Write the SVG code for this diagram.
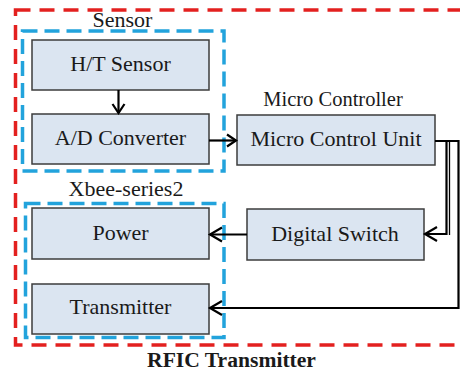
<svg xmlns="http://www.w3.org/2000/svg" width="460" height="371" viewBox="0 0 460 371">
<defs>
<style>
.box{fill:#dbe5f1;stroke:#3c3c3c;stroke-width:1.5}
.t{font-size:22px;fill:#1a1a1a;text-anchor:middle}
.b{font-weight:bold;font-size:21.6px}
.red{fill:none;stroke:#e3201f;stroke-width:3.5;stroke-dasharray:15 9}
.blue{fill:none;stroke:#22a3dc;stroke-width:3.5;stroke-dasharray:15 7}
.c{fill:none;stroke:#000;stroke-width:2.2}
</style>
<marker id="ah" markerUnits="userSpaceOnUse" markerWidth="20" markerHeight="20" viewBox="-14 -10 16 20" refX="0" refY="0" orient="auto">
<path d="M-12,-7 L0,0 L-12,7" fill="none" stroke="#000" stroke-width="2.2"/>
</marker>
<marker id="ahs" markerUnits="userSpaceOnUse" markerWidth="20" markerHeight="20" viewBox="-14 -10 16 20" refX="0" refY="0" orient="auto">
<path d="M-9,-6 L0,0 L-9,6" fill="none" stroke="#000" stroke-width="2.2"/>
</marker>
</defs>
<rect width="460" height="371" fill="#fff"/>
<g font-family="Liberation Serif, Times New Roman, serif">
<g id="rfic">
<rect class="red" x="15.5" y="10" width="460" height="335"/>
<text class="t b" x="231.5" y="366.5">RFIC Transmitter</text>
</g>
<g id="sensor">
<rect class="blue" x="22.5" y="31" width="201.5" height="140"/>
<text class="t" x="122.5" y="27">Sensor</text>
</g>
<g id="xbee">
<rect class="blue" x="25.5" y="203.5" width="198.5" height="134"/>
<text class="t" x="126" y="196">Xbee-series2</text>
</g>
<g id="ht-sensor">
<rect class="box" x="32" y="40" width="177" height="50"/>
<text class="t" x="120.5" y="71">H/T Sensor</text>
</g>
<g id="ad-converter">
<rect class="box" x="32" y="114" width="177" height="50"/>
<text class="t" x="120.5" y="145">A/D Converter</text>
</g>
<g id="mcu">
<text class="t" x="333" y="106" style="font-size:20.5px">Micro Controller</text>
<rect class="box" x="237" y="115" width="198" height="50"/>
<text class="t" x="336" y="146">Micro Control Unit</text>
</g>
<g id="digital-switch">
<rect class="box" x="247" y="209" width="177" height="51"/>
<text class="t" x="335" y="240.5">Digital Switch</text>
</g>
<g id="power">
<rect class="box" x="32" y="208" width="177" height="51"/>
<text class="t" x="120.5" y="239.5">Power</text>
</g>
<g id="transmitter">
<rect class="box" x="32" y="284" width="177" height="50"/>
<text class="t" x="120.5" y="314">Transmitter</text>
</g>
</g>
<g id="connectors">
<path class="c" d="M118.5,90 V113" marker-end="url(#ahs)"/>
<path class="c" d="M209,140.5 H236" marker-end="url(#ahs)"/>
<path class="c" d="M435,141 H446.5 V234 H425" marker-end="url(#ah)"/>
<path class="c" d="M449.5,141 V235" style="stroke-width:1.3"/>
<path class="c" d="M435,141 H458.5 V308 H210" marker-end="url(#ah)"/>
<path class="c" d="M247,234.5 H210" marker-end="url(#ah)"/>
</g>
</svg>
